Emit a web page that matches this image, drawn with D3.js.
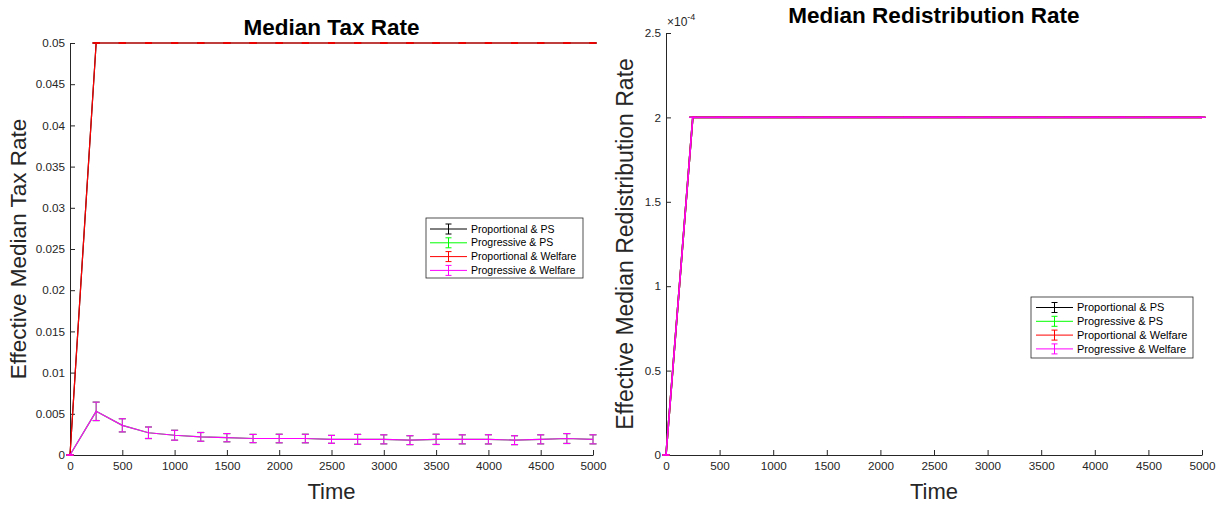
<!DOCTYPE html>
<html>
<head>
<meta charset="utf-8">
<script src="https://cdn.jsdelivr.net/npm/d3@7"></script>
<style>
  html, body { margin: 0; padding: 0; background: #fff; }
  svg { display: block; font-family: "Liberation Sans", Arial, Helvetica, sans-serif; }
</style>
</head>
<body>
<svg id="chart" width="1225" height="506"></svg>
<script>
// ---------------- DATA ----------------
const timeSteps = [0, 250, 500, 750, 1000, 1250, 1500, 1750, 2000, 2250, 2500,
                   2750, 3000, 3250, 3500, 3750, 4000, 4250, 4500, 4750, 5000];

const seriesNames = ["Proportional & PS", "Progressive & PS", "Proportional & Welfare", "Progressive & Welfare"];
const seriesColors = ["#000000", "#00ff00", "#ff0000", "#ff00ff"];

// Median tax rate
const taxProportionalPS = [0, 0.05, 0.05, 0.05, 0.05, 0.05, 0.05, 0.05, 0.05, 0.05, 0.05,
                           0.05, 0.05, 0.05, 0.05, 0.05, 0.05, 0.05, 0.05, 0.05, 0.05];
const taxProgressivePS = [0, 0.0053, 0.0036, 0.0027, 0.0024, 0.0022, 0.0021, 0.0020, 0.0020, 0.0020, 0.0019,
                          0.0019, 0.0019, 0.0018, 0.0019, 0.0019, 0.0019, 0.0018, 0.0019, 0.0020, 0.0019];
const taxProportionalWelfare = [0, 0.05, 0.05, 0.05, 0.05, 0.05, 0.05, 0.05, 0.05, 0.05, 0.05,
                                0.05, 0.05, 0.05, 0.05, 0.05, 0.05, 0.05, 0.05, 0.05, 0.05];
const taxProgressiveWelfare = [0, 0.0053, 0.0036, 0.0027, 0.0024, 0.0022, 0.0021, 0.0020, 0.0020, 0.0020, 0.0019,
                               0.0019, 0.0019, 0.0018, 0.0019, 0.0019, 0.0019, 0.0018, 0.0019, 0.0020, 0.0019];
const taxZeroErr = [0, 0, 0, 0, 0, 0, 0, 0, 0, 0, 0, 0, 0, 0, 0, 0, 0, 0, 0, 0, 0];
const taxProgressiveErr = [0, 0.00112, 0.0008, 0.0007, 0.0006, 0.00053, 0.0005, 0.0005, 0.00052, 0.00052, 0.00048,
                           0.0006, 0.00055, 0.00054, 0.00062, 0.00055, 0.00056, 0.00054, 0.00055, 0.0006, 0.00055];

// Median redistribution rate
const redistProportionalPS = [0, 2e-4, 2e-4, 2e-4, 2e-4, 2e-4, 2e-4, 2e-4, 2e-4, 2e-4, 2e-4,
                              2e-4, 2e-4, 2e-4, 2e-4, 2e-4, 2e-4, 2e-4, 2e-4, 2e-4, 2e-4];
const redistProgressivePS = redistProportionalPS.slice();
const redistProportionalWelfare = redistProportionalPS.slice();
const redistProgressiveWelfare = redistProportionalPS.slice();

const taxTicks = [0, 0.005, 0.01, 0.015, 0.02, 0.025, 0.03, 0.035, 0.04, 0.045, 0.05];
const redistTicks = [0, 0.5e-4, 1e-4, 1.5e-4, 2e-4, 2.5e-4];
const timeTicks = [0, 500, 1000, 1500, 2000, 2500, 3000, 3500, 4000, 4500, 5000];

// ---------------- DRAW ----------------
const svg = d3.select("#chart");
const axisColor = "#262626";

function panel(cfg) {
  const x = d3.scaleLinear().domain([0, 5000]).range([cfg.x0, cfg.x1]);
  const y = d3.scaleLinear().domain(cfg.yDomain).range([cfg.yBottom, cfg.yTop]);
  const g = svg.append("g");

  // axes
  const xa = g.append("g").attr("transform", `translate(0,${cfg.yBottom})`)
    .call(d3.axisBottom(x).tickValues(timeTicks).tickSizeInner(-5).tickSizeOuter(0).tickPadding(7)
      .tickFormat(d3.format("d")));
  const ya = g.append("g").attr("transform", `translate(${cfg.x0},0)`)
    .call(d3.axisLeft(y).tickValues(cfg.yTicks).tickSizeInner(-5).tickSizeOuter(0).tickPadding(5)
      .tickFormat(cfg.yFormat));
  [xa, ya].forEach(a => {
    a.selectAll("path").attr("stroke", axisColor).attr("stroke-width", 1);
    a.selectAll("line").attr("stroke", axisColor).attr("stroke-width", 1);
    a.selectAll("text").attr("fill", axisColor).style("font-size", "11.7px")
      .style("font-family", "'Liberation Sans', Arial, sans-serif");
  });

  // series
  const line = d3.line().x(d => x(d.t)).y(d => y(d.v));
  cfg.series.forEach((s, i) => {
    const pts = timeSteps.map((t, k) => ({ t, v: s.values[k], e: s.err[k] }));
    const sg = g.append("g");
    sg.append("path").datum(pts).attr("d", line)
      .attr("fill", "none").attr("stroke", seriesColors[i]).attr("stroke-width", cfg.lineWidth);
    const eb = sg.selectAll("g.eb").data(pts).join("g");
    eb.append("line")
      .attr("x1", d => x(d.t)).attr("x2", d => x(d.t))
      .attr("y1", d => y(d.v - d.e)).attr("y2", d => y(d.v + d.e))
      .attr("stroke", seriesColors[i]).attr("stroke-width", 1);
    [1, -1].forEach(sgn => {
      eb.append("line")
        .attr("x1", d => x(d.t) - 3.5).attr("x2", d => x(d.t) + 3.5)
        .attr("y1", d => y(d.v + sgn * d.e)).attr("y2", d => y(d.v + sgn * d.e))
        .attr("stroke", seriesColors[i]).attr("stroke-width", 1.2);
    });
  });

  // title
  svg.append("text").attr("x", (cfg.x0 + cfg.x1) / 2).attr("y", cfg.titleY)
    .attr("text-anchor", "middle").attr("font-weight", "bold").style("font-size", "22.5px")
    .attr("fill", "#000").text(cfg.title);
  // x label
  svg.append("text").attr("x", (cfg.x0 + cfg.x1) / 2).attr("y", 499)
    .attr("text-anchor", "middle").style("font-size", "22px").attr("fill", axisColor).text("Time");
  // y label
  svg.append("text").attr("transform", `translate(${cfg.yLabelX},${cfg.yLabelY}) rotate(-90)`)
    .attr("text-anchor", "middle").style("font-size", cfg.yLabelSize).attr("fill", axisColor).text(cfg.yLabel);

  // legend
  const L = cfg.legend;
  const lg = svg.append("g");
  lg.append("rect").attr("x", L.x).attr("y", L.y).attr("width", L.w).attr("height", L.h)
    .attr("fill", "#fff").attr("stroke", axisColor).attr("stroke-width", 0.8);
  seriesNames.forEach((name, i) => {
    const cy = L.y + L.first + i * L.step;
    lg.append("line").attr("x1", L.x + L.iconL).attr("x2", L.x + L.iconR).attr("y1", cy).attr("y2", cy)
      .attr("stroke", seriesColors[i]).attr("stroke-width", 1);
    const cx = L.x + (L.iconL + L.iconR) / 2;
    lg.append("line").attr("x1", cx).attr("x2", cx).attr("y1", cy - 5).attr("y2", cy + 5)
      .attr("stroke", seriesColors[i]).attr("stroke-width", 1);
    [-5, 5].forEach(o => lg.append("line").attr("x1", cx - 3).attr("x2", cx + 3)
      .attr("y1", cy + o).attr("y2", cy + o).attr("stroke", seriesColors[i]).attr("stroke-width", 1));
    lg.append("text").attr("x", L.x + L.textX).attr("y", cy).attr("dy", "0.35em")
      .style("font-size", L.font).attr("fill", "#000").text(name);
  });
  return { x, y };
}

// Left panel
panel({
  x0: 70, x1: 593, yBottom: 455, yTop: 43, lineWidth: 1.2,
  yDomain: [0, 0.05], yTicks: taxTicks,
  yFormat: d => d === 0 ? "0" : String(+d.toFixed(3)),
  title: "Median Tax Rate", titleY: 35,
  yLabel: "Effective Median Tax Rate", yLabelX: 26, yLabelY: 249, yLabelSize: "22.5px",
  series: [
    { values: taxProportionalPS, err: taxZeroErr },
    { values: taxProgressivePS, err: taxProgressiveErr },
    { values: taxProportionalWelfare, err: taxZeroErr },
    { values: taxProgressiveWelfare, err: taxProgressiveErr }
  ],
  legend: { x: 426, y: 218, w: 157, h: 60, first: 11, step: 13.8, iconL: 4, iconR: 41, textX: 45, font: "10.5px" }
});

// Right panel
panel({
  x0: 666, x1: 1202, yBottom: 455, yTop: 33, lineWidth: 1.6,
  yDomain: [0, 2.5e-4], yTicks: redistTicks,
  yFormat: d => String(+(d / 1e-4).toFixed(1)),
  title: "Median Redistribution Rate", titleY: 23,
  yLabel: "Effective Median Redistribution Rate", yLabelX: 633, yLabelY: 244, yLabelSize: "23px",
  series: [
    { values: redistProportionalPS, err: taxZeroErr },
    { values: redistProgressivePS, err: taxZeroErr },
    { values: redistProportionalWelfare, err: taxZeroErr },
    { values: redistProgressiveWelfare, err: taxZeroErr }
  ],
  legend: { x: 1031, y: 297, w: 162, h: 61, first: 10.5, step: 13.8, iconL: 5, iconR: 42, textX: 46, font: "11px" }
});

// exponent label for right y axis
const expo = svg.append("text").attr("x", 667).attr("y", 26).style("font-size", "12px").attr("fill", axisColor);
expo.append("tspan").text("×10");
expo.append("tspan").attr("dy", -6).style("font-size", "9px").text("-4");
</script>
</body>
</html>
